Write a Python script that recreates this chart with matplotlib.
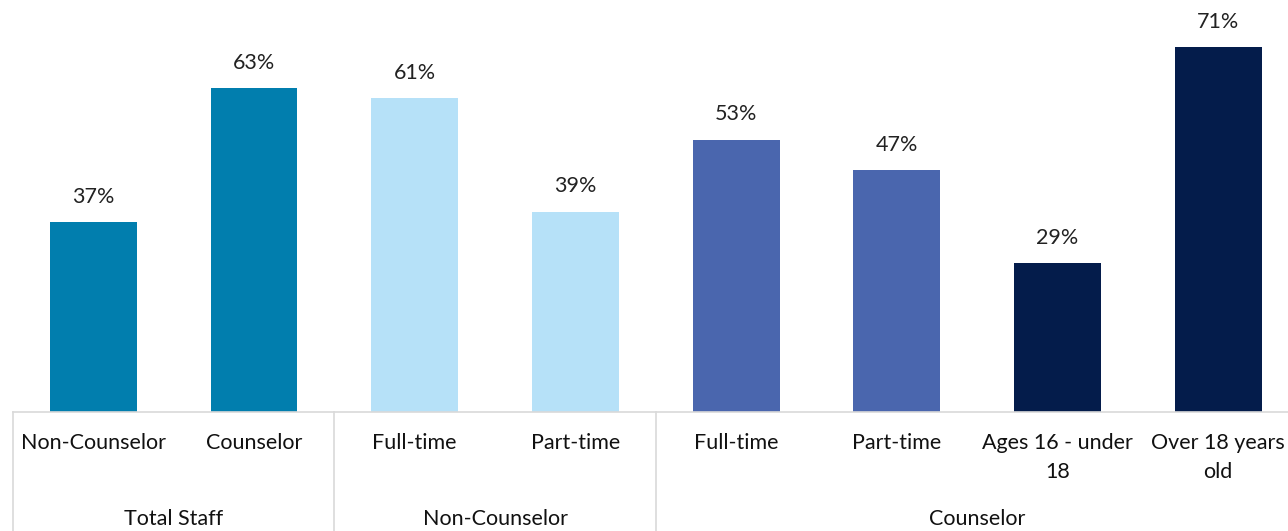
import matplotlib.pyplot as plt
import matplotlib.transforms as mtransforms

categories = ['Non-Counselor', 'Counselor', 'Full-time', 'Part-time',
              'Full-time', 'Part-time', 'Ages 16 - under\n18', 'Over 18 years\nold']
values = [37, 63, 61, 39, 53, 47, 29, 71]
colors = ['#017eae', '#017eae', '#b6e1f8', '#b6e1f8',
          '#4a66ae', '#4a66ae', '#041c4b', '#041c4b']
groups = ['Total Staff', 'Non-Counselor', 'Counselor']
group_spans = [(0, 1), (2, 3), (4, 7)]

plt.rcParams['font.family'] = ['Lato', 'DejaVu Sans']
FS = 15.5

W, H = 1288, 531
fig = plt.figure(figsize=(W / 100, H / 100), dpi=100)
base = 412
left = 13
step = 160.7
ax = fig.add_axes([left / W, (H - base) / H, 8 * step / W, base / H])

x = list(range(len(values)))
ax.bar(x, values, width=0.54, color=colors)
ax.set_xlim(-0.5, 7.5)
ax.set_ylim(0, base / 5.14)

for xi, v in zip(x, values):
    ax.annotate(f'{v}%', (xi, v), xytext=(0, 11), textcoords='offset points',
                ha='center', va='bottom', fontsize=FS, color='#222222')

for s in ['top', 'right', 'left']:
    ax.spines[s].set_visible(False)
ax.spines['bottom'].set_color('#d9d9d9')
ax.spines['bottom'].set_linewidth(1.2)
ax.set_xticks([])
ax.set_yticks([])

trans = mtransforms.blended_transform_factory(ax.transData, ax.transAxes)
px = 1 / base  # one pixel in axes-fraction units

# category labels under each bar
for xi, lab in zip(x, categories):
    ax.text(xi, -31 * px, lab.split('\n')[0], transform=trans, ha='center',
            va='center', fontsize=FS, color='#111111')
    if '\n' in lab:
        ax.text(xi, -60 * px, lab.split('\n')[1], transform=trans, ha='center',
                va='center', fontsize=FS, color='#111111')

# group labels
for name, (a, b) in zip(groups, group_spans):
    ax.text((a + b) / 2, -107 * px, name, transform=trans, ha='center',
            va='center', fontsize=FS, color='#111111')

for sep in [-0.5, 1.5, 3.5]:
    ax.plot([sep, sep], [0, -(H - base) * px], transform=trans, color='#d9d9d9',
            lw=1.2, clip_on=False)

fig.savefig('out.png', dpi=100)
